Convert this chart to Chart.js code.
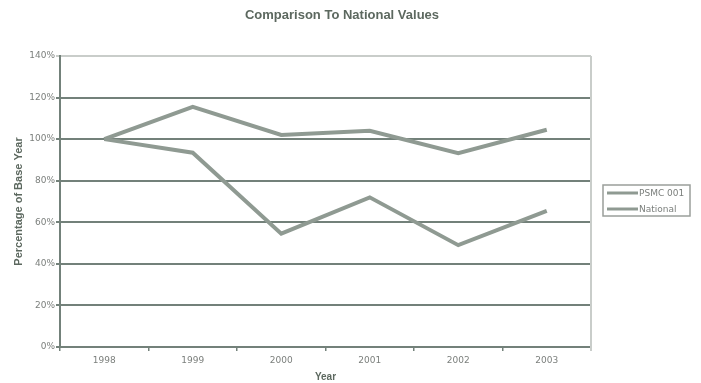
<!DOCTYPE html>
<html>
<head>
<meta charset="utf-8">
<title>Comparison To National Values</title>
<script src="https://cdn.jsdelivr.net/npm/chart.js@4.4.0/dist/chart.umd.min.js"></script>
<style>
    html, body { margin: 0; padding: 0; background: #fff; }
    #wrap { width: 701px; height: 383px; position: relative; }
</style>
</head>
<body>
<div id="wrap"><canvas id="chart" width="701" height="383"></canvas></div>
<script>
// values (% of 1998)
const years = ['1998', '1999', '2000', '2001', '2002', '2003'];
const psmcValues = [100, 93.5, 54.5, 72, 49, 65.5];
const nationalValues = [100, 115.5, 102, 104, 93.3, 104.5];
const seriesNames = ['PSMC 001', 'National'];
const chartTitle = 'Comparison To National Values';

const lineColor = '#8f9a92';
const gridColor = '#73817a';
const textColor = '#7b7f7c';
const titleColor = '#5c685f';

// title + boxed legend are drawn by hand so the plot keeps its place
const extrasPlugin = {
    id: 'extras',
    afterDraw(chart) {
        const ctx = chart.ctx;
        const area = chart.chartArea;
        ctx.save();

        // light right border of the plot
        ctx.strokeStyle = '#c9cdca';
        ctx.lineWidth = 2;
        ctx.beginPath();
        ctx.moveTo(area.right, area.top);
        ctx.lineTo(area.right, area.bottom + 4);
        ctx.stroke();

        // title
        ctx.fillStyle = titleColor;
        ctx.font = 'bold 13px "Liberation Sans", Arial, sans-serif';
        ctx.textAlign = 'center';
        ctx.textBaseline = 'middle';
        ctx.fillText(chartTitle, 342, 15);

        // legend
        const lx = 603, ly = 185, lw = 87, lh = 31;
        ctx.strokeStyle = '#9a9f9b';
        ctx.lineWidth = 1.5;
        ctx.strokeRect(lx, ly, lw, lh);
        ctx.font = '9px "DejaVu Sans", sans-serif';
        ctx.textAlign = 'left';
        chart.data.datasets.forEach((ds, i) => {
            const y = ly + 8 + i * 16;
            ctx.strokeStyle = ds.borderColor;
            ctx.lineWidth = 3;
            ctx.beginPath();
            ctx.moveTo(lx + 4, y);
            ctx.lineTo(lx + 35, y);
            ctx.stroke();
            ctx.fillStyle = textColor;
            ctx.fillText(ds.label, lx + 36, y + 1);
        });
        ctx.restore();
    }
};

new Chart(document.getElementById('chart'), {
    type: 'line',
    data: {
        labels: years,
        datasets: [{
            label: seriesNames[0],
            data: psmcValues,
            borderColor: lineColor,
            borderWidth: 4,
            pointRadius: 0,
            tension: 0,
            fill: false
        }, {
            label: seriesNames[1],
            data: nationalValues,
            borderColor: lineColor,
            borderWidth: 4,
            pointRadius: 0,
            tension: 0,
            fill: false
        }]
    },
    options: {
        responsive: false,
        animation: false,
        layout: { padding: { top: 56, right: 110, left: 0, bottom: 0 } },
        plugins: {
            legend: { display: false },
            title: { display: false },
            tooltip: { enabled: false }
        },
        scales: {
            x: {
                offset: true,
                afterFit: scale => { scale.height = 36; },
                grid: {
                    offset: true,
                    drawOnChartArea: false,
                    drawTicks: true,
                    tickLength: 4,
                    color: gridColor,
                    lineWidth: 1.5
                },
                border: { color: gridColor, width: 2 },
                ticks: {
                    color: textColor,
                    padding: 4,
                    font: { family: '"DejaVu Sans", sans-serif', size: 9 }
                },
                title: {
                    display: true,
                    text: 'Year',
                    color: titleColor,
                    padding: { top: 0, bottom: 0 },
                    font: { family: '"Liberation Sans", Arial, sans-serif', size: 10, weight: 'bold' }
                }
            },
            y: {
                min: 0,
                max: 140,
                afterFit: scale => { scale.width = 60; },
                grid: {
                    color: ctx => ctx.tick && ctx.tick.value === 140 ? '#c9cdca' : gridColor,
                    lineWidth: 2,
                    drawTicks: true,
                    tickLength: 4
                },
                border: { color: gridColor, width: 2 },
                ticks: {
                    stepSize: 20,
                    color: textColor,
                    padding: 1,
                    font: { family: '"DejaVu Sans", sans-serif', size: 9 },
                    callback: v => v + '%'
                },
                title: {
                    display: true,
                    text: 'Percentage of Base Year',
                    color: titleColor,
                    padding: { top: 12, bottom: 0 },
                    font: { family: '"Liberation Sans", Arial, sans-serif', size: 11, weight: 'bold' }
                }
            }
        }
    },
    plugins: [extrasPlugin]
});
</script>
</body>
</html>
